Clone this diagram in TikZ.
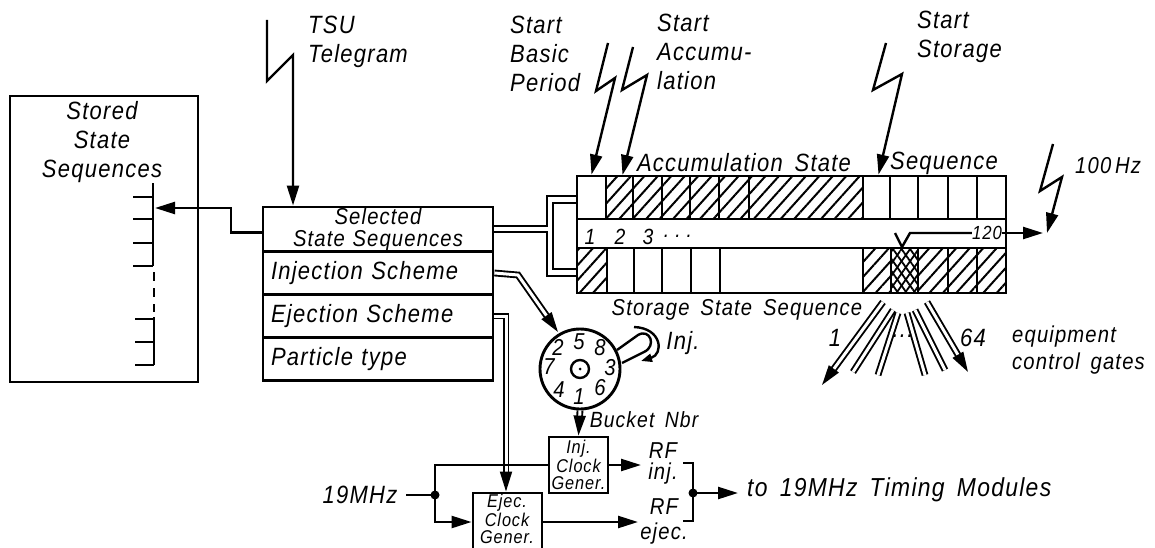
\documentclass[tikz,border=0pt]{standalone}
\usepackage{fontspec}
\usepackage{tikz}
\usetikzlibrary{arrows.meta}
\usetikzlibrary{patterns.meta}
\setmainfont{Liberation Sans}[LetterSpace=5,WordSpace=1.6,ItalicFeatures={FakeStretch=.88}]
\tikzset{>={Stealth[length=20pt,width=12pt,inset=0pt]}}
\tikzset{
	txt/.style={font=\fontsize{25}{29}\selectfont\itshape, inner sep=0pt, align=left},
	smalltxt/.style={font=\fontsize{18.5}{17}\selectfont\itshape, inner sep=0pt, align=center},
	heavy/.style={draw, line width=2.9pt},
	wire/.style={line width=2.4pt},
	dblwire/.style={line width=1.9pt, double, double distance=3pt},
	schemebox/.style={heavy, minimum width=230pt, text width=214pt, inner xsep=8pt, inner ysep=0pt, align=left, font=\fontsize{25}{20}\selectfont\itshape},
	plaincell/.style={heavy, inner sep=0pt},
	hatched/.style={plaincell, pattern={Lines[angle=48,distance=10pt,line width=2pt]}},
	crossed/.style={plaincell, pattern={Lines[angle=55,distance=7pt,line width=1.8pt]}, postaction={pattern={Lines[angle=-55,distance=7pt,line width=1.8pt]}}}
}
\newcommand{\boltarrow}[4]{\draw[wire,->] #1 -- #2 -- #3 -- #4;}% [top][kink][kink][tip]
\begin{document}
\begin{tikzpicture}[x=1pt,y=-1pt]
	\useasboundingbox (0,0) rectangle (1155,548);
	\clip (0,0) rectangle (1155,548);

	% stored sequences
	\node[heavy, minimum width=188pt, minimum height=286pt] (stored) at (104,239) {};
	\node[txt, align=center] (storedlabel) at (102,142) {Stored\\State\\Sequences};
	\draw[wire, line width=2.8pt] (153,183) -- (153,266) (154,317) -- (154,365);
	\draw[wire, line width=2.8pt, dash pattern=on 9pt off 7pt] (154,272) -- (154,312);
	\foreach \y in {197,219,243,266} \draw[wire, line width=2.6pt] (133,\y) -- (153,\y);
	\foreach \y in {319,342,365} \draw[wire, line width=2.6pt] (135,\y) -- (154,\y);

	% scheme table
	\node[schemebox, align=center, minimum height=45pt, font=\fontsize{23}{22}\selectfont\itshape] (sel) at (378,229.5) {Selected\\State Sequences};
	\node[schemebox, minimum height=43pt] (inj) at (378,273) {Injection Scheme};
	\node[schemebox, minimum height=43pt] (ejec) at (378,316) {Ejection Scheme};
	\node[schemebox, minimum height=43pt] (part) at (378,359) {Particle type};

	\coordinate (elbow) at (231,208);
	\coordinate (ladderin) at (155,208);
	\draw[wire,->] ([yshift=-3pt]sel.west) -| (elbow) -- (ladderin);

	% state sequence bar
	\foreach \xa/\xb/\cname/\cstyle in {577/606/ua/plaincell, 606/633/ub/hatched, 633/662/uc/hatched, 662/690/ud/hatched, 690/719/ue/hatched, 719/749/uf/hatched, 749/863/ug/hatched, 863/890/uh/plaincell, 890/918/ui/plaincell, 918/948/uj/plaincell, 948/977/uk/plaincell, 977/1006/ul/plaincell}
		\node[\cstyle, minimum width={(\xb-\xa)*1pt}, minimum height=43pt] (\cname) at ({(\xa+\xb)/2},197.5) {};
	\foreach \xa/\xb/\cname/\cstyle in {577/607/la/hatched, 607/634/lb/plaincell, 634/662/lc/plaincell, 662/691/ld/plaincell, 691/720/le/plaincell, 720/863/lf/plaincell, 863/891/lg/hatched, 891/918/lh/crossed, 918/948/li/hatched, 948/977/lj/hatched, 977/1006/lk/hatched}
		\node[\cstyle, minimum width={(\xb-\xa)*1pt}, minimum height=45pt] (\cname) at ({(\xa+\xb)/2},270.5) {};
	\node[plaincell, minimum width=429pt, minimum height=29pt] (midrow) at (791.5,233.5) {};

	\node[txt] (accumlabel) at (744,163) {Accumulation State};
	\node[txt] (seqlabel) at (944,163) {Sequence};
	\node[txt, font=\fontsize{23}{29}\selectfont\itshape] (storagelabel) at (737,310) {Storage State Sequence};
	\foreach \x/\n in {590/1,620/2,648/3}
		\node[smalltxt, font=\fontsize{22}{17}\selectfont\itshape] (slot\n) at (\x,237) {\n};
	\node[smalltxt, font=\fontsize{22}{17}\selectfont\itshape] (slotdots) at (678,236) {.\hspace{6pt}.\hspace{6pt}.};
	\node[smalltxt, font=\fontsize{19}{17}\selectfont\itshape] (slotlast) at (987,233) {120};

	% links to the bar
	\draw[wire] ([yshift=3.5pt]sel.east) -- (547,226) -- (547,196) -- (ua.west |- 0,196);
	\draw[wire] (ua.west |- 0,203) -- (553,203) -- (553,269) -- (la.west |- 0,269);
	\draw[wire] ([yshift=-2.5pt]sel.east) -- (547,232) -- (547,276) -- (la.west |- 0,276);
	\draw[wire] (slotlast.west) -- (910,233) -- (902,247) -- (895,233);
	\draw[wire,->] (slotlast.east) -- (1043,233);

	% bolts
	\node[txt, anchor=west] (tsulabel) at (308,42) {TSU\\Telegram};
	\boltarrow{(267,20)}{(267,81)}{(293,55)}{(sel.north -| 293,0)}
	\node[txt, anchor=west] (basiclabel) at (510,54) {Start\\Basic\\Period};
	\boltarrow{(608,43)}{(596,91)}{(615,78)}{(ua.north)}
	\node[txt, anchor=west] (startaccum) at (657,52) {Start\\Accumu-\\lation};
	\boltarrow{(633,47)}{(622,90)}{(647,75)}{([xshift=3pt]ub.north)}
	\node[txt, anchor=west] (startstorage) at (917,37) {Start\\Storage};
	\boltarrow{(886,43)}{(873,90)}{(902,74)}{([xshift=2pt]uh.north)}
	\node[txt, anchor=west, font=\fontsize{23}{29}\selectfont\itshape] (hzlabel) at (1075,166) {100\,Hz};
	\coordinate (hztip) at (1047,233);
	\boltarrow{(1053,144)}{(1040,191)}{(1062,177)}{(hztip)}

	% gates
	\foreach \xa/\ya/\xb/\yb in {893/310/853/372, 898/313/878/375, 907/313/925/375, 915/310/945/370}
		\draw[dblwire] (\xa,\ya) -- (\xb,\yb);
	\draw[dblwire,->] (883,302) -- (822,385);
	\draw[dblwire,->] (927,302) -- (968,372);
	\node[txt] (gatefirst) at (835,338) {1};
	\node[txt] (gatedots) at (903,336) {...};
	\node[txt] (gatelast) at (973,338) {64};
	\node[txt, anchor=west, font=\fontsize{23}{27}\selectfont\itshape] (gateslabel) at (1012,350) {equipment\\control gates};

	% dial
	\node[heavy, circle, minimum size=80pt, inner sep=0pt] (dial) at (580,369) {};
	\node[circle, draw, line width=2.4pt, minimum size=18pt, inner sep=0pt] (hub) at (dial) {};
	\node[circle, fill, minimum size=3pt, inner sep=0pt] (hubdot) at (dial) {};
	\foreach \x/\y/\n in {579/342/5, 558/347/2, 600/348/8, 549/367/7, 610/368/3, 559/390/4, 600/388/6, 579/397/1}
		\node[txt, font=\fontsize{23}{20}\selectfont\itshape] (digit\n) at (\x,\y) {\n};
	\draw[wire] (617,350) -- (638,335) .. controls (650,328) and (657,346) .. (644,352) -- (622,363);
	\draw[wire,-{Stealth[length=11pt,width=8pt,inset=0pt]}] (634,327) .. controls (662,328) and (664,354) .. (641,361);
	\node[txt] (injlabel) at (683,343) {Inj.};
	\draw[dblwire,->] (inj.east) -- (518,275) -- (558,332);

	% clock generators
	\node[plaincell, smalltxt, minimum width=59pt, minimum height=56pt] (injclock) at (578.5,465) {Inj.\\Clock\\Gener.};
	\node[plaincell, minimum width=69pt, minimum height=70pt] (ejclock) at (507.5,528) {};
	\node[smalltxt] (ejclocklabel) at (507,519) {Ejec.\\Clock\\Gener.};
	\draw[dblwire,->] (dial.south) -- (injclock.north);
	\node[txt, font=\fontsize{22}{29}\selectfont\itshape] (bucketlabel) at (644,420) {Bucket Nbr};
	\draw[dblwire,->] (ejec.east) -- (506,316) -- (ejclock.north -| 506,0);

	\node[txt] (mhzlabel) at (360,495) {19MHz};
	\coordinate (split) at (435,495);
	\draw[wire] (406,495) -- (split);
	\fill (split) circle (4.5pt);
	\draw[wire] (split) |- (injclock.west);
	\draw[wire,->] (split) |- (ejclock.west |- 0,522);

	% rf outputs
	\node[txt, align=center, font=\fontsize{23}{21}\selectfont\itshape] (rfinj) at (663,463) {RF\\inj.};
	\node[txt, align=center, font=\fontsize{23}{25}\selectfont\itshape] (rfej) at (664,521) {RF\\ejec.};
	\draw[wire,->] (injclock.east) -- (641,465);
	\draw[wire,->] (ejclock.east |- 0,522) -- (638,522);
	\coordinate (join) at (693,493);
	\draw[wire] (683,463) -- (693,463) -- (693,521) -- (683,521);
	\fill (join) circle (4.5pt);
	\node[txt, anchor=west, font=\fontsize{26}{29}\selectfont\itshape] (timinglabel) at (747,490) {to 19MHz Timing Modules};
	\coordinate (timingin) at (738,493);
	\draw[wire,->] (join) -- (timingin);
\end{tikzpicture}
\end{document}
